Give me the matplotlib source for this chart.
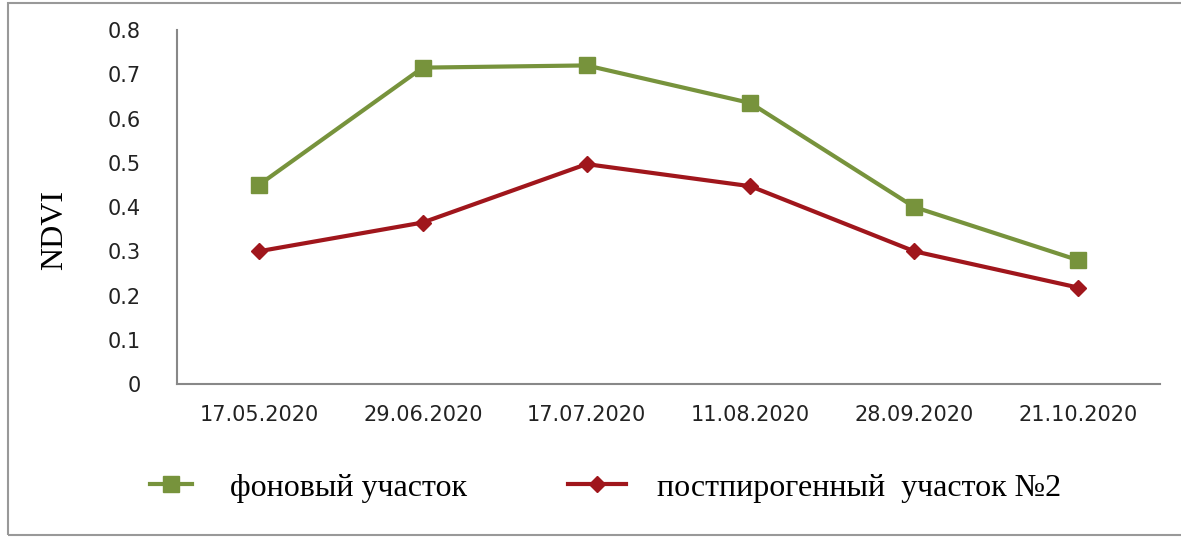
import matplotlib
matplotlib.use('Agg')
import matplotlib.pyplot as plt
from matplotlib.patches import Rectangle

dates = ['17.05.2020', '29.06.2020', '17.07.2020', '11.08.2020', '28.09.2020', '21.10.2020']
background = [0.45, 0.715, 0.72, 0.635, 0.40, 0.28]
burnt2 = [0.30, 0.365, 0.497, 0.447, 0.30, 0.218]
names = ['фоновый участок', 'постпирогенный  участок №2']

green = '#77933C'
red = '#A0161C'

fig = plt.figure(figsize=(11.81, 5.38), dpi=100)
ax = fig.add_axes([0.1499, 0.2862, 0.8323, 0.658])

x = range(len(dates))
l1, = ax.plot(x, background, color=green, lw=3, marker='s', ms=11, label=names[0])
l2, = ax.plot(x, burnt2, color=red, lw=3, marker='D', ms=8, label=names[1])

ax.set_xlim(-0.5, len(dates) - 0.5)
ax.set_ylim(0, 0.8)
ax.set_yticks([0, 0.1, 0.2, 0.3, 0.4, 0.5, 0.6, 0.7, 0.8])
ax.set_yticklabels(['0', '0.1', '0.2', '0.3', '0.4', '0.5', '0.6', '0.7', '0.8'])
ax.set_xticks(list(x))
ax.set_xticklabels(dates)
ax.tick_params(axis='both', length=0, labelsize=15, colors='#222222')
ax.tick_params(axis='y', pad=26)
ax.tick_params(axis='x', pad=15)

for s in ['top', 'right']:
    ax.spines[s].set_visible(False)
for s in ['left', 'bottom']:
    ax.spines[s].set_color('#888888')
    ax.spines[s].set_linewidth(1.5)

ax.set_ylabel('NDVI', family='Liberation Serif', fontsize=23)
ax.yaxis.set_label_coords(-0.11, 0.435)

prop = {'family': 'Liberation Serif', 'size': 23}
fig.legend(handles=[l1], loc='center left', bbox_to_anchor=(150 / 1181, 0.093),
           frameon=False, prop=prop, handlelength=1.3, handletextpad=1.2,
           borderpad=0, borderaxespad=0)
fig.legend(handles=[l2], loc='center left', bbox_to_anchor=(568 / 1181, 0.093),
           frameon=False, prop=prop, handlelength=1.8, handletextpad=1.0,
           borderpad=0, borderaxespad=0)

# outer frame of the chart area
fig.patches.append(Rectangle((0.0068, 0.0056), 1.0, 0.989, transform=fig.transFigure,
                             fill=False, edgecolor='#999999', lw=1.5))

fig.savefig('out.png', dpi=100)
